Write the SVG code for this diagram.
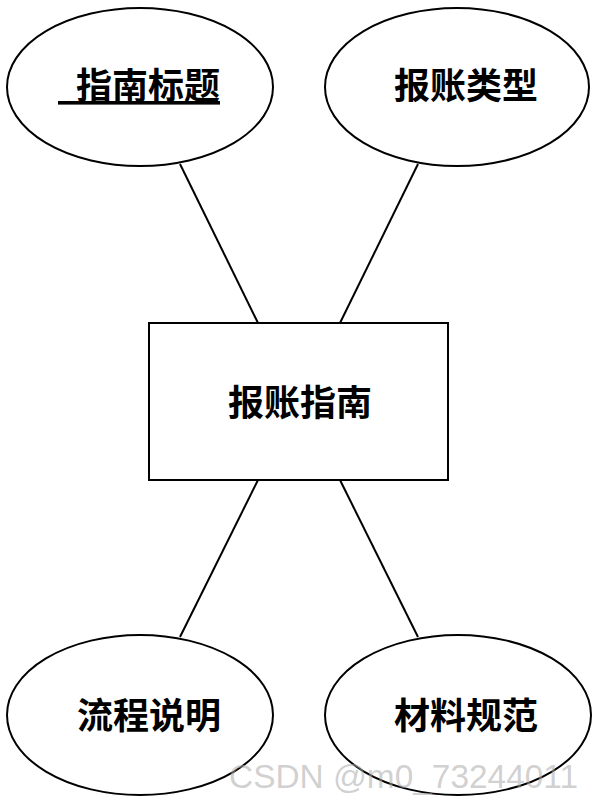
<svg xmlns="http://www.w3.org/2000/svg" width="597" height="802" viewBox="0 0 597 802">
<style>
.shape{fill:#fff;stroke:#000;stroke-width:2}
.edge{stroke:#000;stroke-width:2;fill:none}
.lbl{font-family:"Noto Sans CJK SC","Noto Sans",sans-serif;font-size:36px;font-weight:bold;fill:#000}
.wm{font-family:"Liberation Sans",Arial,sans-serif;font-size:33px;fill:#aaa;fill-opacity:0.55}
</style>
<rect width="597" height="802" fill="#fff"/>
<g id="connectors">
<line class="edge" x1="180" y1="164" x2="258" y2="323"/>
<line class="edge" x1="418" y1="164" x2="340" y2="323"/>
<line class="edge" x1="258" y1="480" x2="180" y2="637"/>
<line class="edge" x1="340" y1="480" x2="418" y2="637"/>
</g>
<g id="node-title">
<ellipse class="shape" cx="140" cy="87" rx="133" ry="79"/>
<text class="lbl" x="58" y="99" text-decoration="underline" xml:space="preserve">&#x2002;指南标题</text>
</g>
<g id="node-type">
<ellipse class="shape" cx="457" cy="87" rx="132" ry="79"/>
<text class="lbl" x="466" y="99" text-anchor="middle">报账类型</text>
</g>
<g id="node-guide">
<rect class="shape" x="149" y="323" width="299" height="157"/>
<text class="lbl" x="300" y="416" text-anchor="middle">报账指南</text>
</g>
<g id="node-process">
<ellipse class="shape" cx="140" cy="715" rx="133" ry="80"/>
<text class="lbl" x="149" y="729" text-anchor="middle">流程说明</text>
</g>
<g id="node-material">
<ellipse class="shape" cx="458" cy="715" rx="133" ry="80"/>
<text class="lbl" x="466" y="729" text-anchor="middle">材料规范</text>
</g>
<text class="wm" x="229" y="788" textLength="349" lengthAdjust="spacingAndGlyphs">CSDN @m0_73244011</text>
</svg>
